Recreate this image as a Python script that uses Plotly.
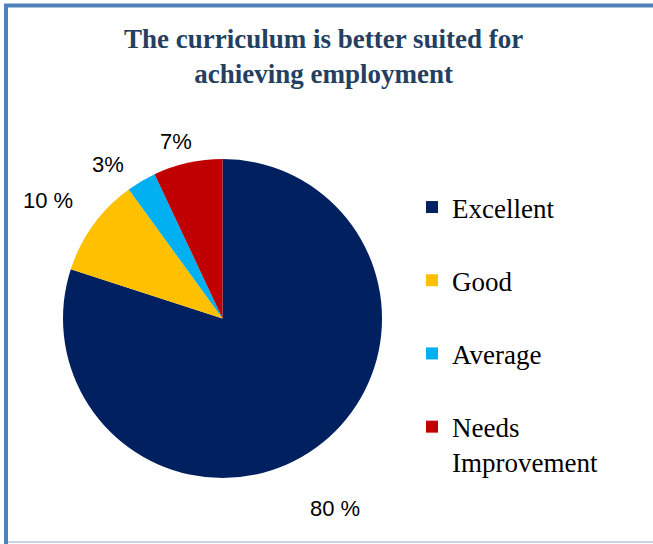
"""Pie chart: curriculum suitability for employment."""

import plotly.graph_objects as go

WIDTH = 653
HEIGHT = 544

TITLE_COLOR = "#243f60"
FRAME_COLOR = "#4f81bd"
BOTTOM_LINE_COLOR = "#c9d5e2"
SERIF = "Liberation Serif, Times New Roman, serif"
SANS = "Liberation Sans, Arial, sans-serif"

categories = ["Excellent", "Good", "Average", "Needs Improvement"]
legend_labels = ["Excellent<br> ", "Good<br> ", "Average<br> ", "Needs<br>Improvement"]
shares = [80, 10, 3, 7]
share_labels = ["80 %", "10 %", "3%", "7%"]
slice_colors = ["#002060", "#ffc000", "#00b0f0", "#c00000"]

# label centres in pixels (x, y from top)
label_positions = [(335, 508), (48, 200), (108, 165), (176, 141)]


def px_x(x):
    return x / WIDTH


def px_y(y):
    return 1 - y / HEIGHT


figure = go.Figure(
    go.Pie(
        labels=legend_labels,
        values=shares,
        sort=False,
        direction="clockwise",
        rotation=0,
        marker={"colors": slice_colors, "line": {"width": 0}},
        textinfo="none",
        hoverinfo="label+percent",
        domain={"x": [px_x(63), px_x(382)], "y": [px_y(478), px_y(159)]},
    )
)

for text, (x, y) in zip(share_labels, label_positions):
    figure.add_annotation(
        x=px_x(x),
        y=px_y(y),
        xref="paper",
        yref="paper",
        xanchor="center",
        yanchor="middle",
        text=text,
        showarrow=False,
        font={"family": SANS, "size": 22, "color": "#000000"},
    )

# chart title
figure.add_annotation(
    x=px_x(323),
    y=px_y(22),
    xref="paper",
    yref="paper",
    xanchor="center",
    yanchor="top",
    text="The curriculum is better suited for<br>achieving employment",
    showarrow=False,
    font={"family": SERIF, "size": 27, "color": TITLE_COLOR, "weight": "bold"},
)

# frame lines
figure.add_shape(
    type="line", xref="paper", yref="paper",
    x0=px_x(6), x1=px_x(6), y0=0, y1=px_y(4),
    line={"color": FRAME_COLOR, "width": 4},
)
figure.add_shape(
    type="line", xref="paper", yref="paper",
    x0=px_x(4), x1=1, y0=px_y(5.5), y1=px_y(5.5),
    line={"color": FRAME_COLOR, "width": 4},
)
figure.add_shape(
    type="line", xref="paper", yref="paper",
    x0=px_x(8), x1=1, y0=px_y(542), y1=px_y(542),
    line={"color": BOTTOM_LINE_COLOR, "width": 2},
)

figure.update_layout(
    width=WIDTH,
    height=HEIGHT,
    margin={"l": 0, "r": 0, "t": 0, "b": 0},
    paper_bgcolor="#ffffff",
    plot_bgcolor="#ffffff",
    legend={
        "x": px_x(412),
        "y": px_y(183),
        "xanchor": "left",
        "yanchor": "top",
        "valign": "top",
        "font": {"family": SERIF, "size": 27, "color": "#000000"},
        "itemwidth": 30,
        "bgcolor": "rgba(0,0,0,0)",
    },
)

figure.write_html(
    "out.html",
    config={"displayModeBar": False},
    post_script="document.body.style.margin = '0';",
)
